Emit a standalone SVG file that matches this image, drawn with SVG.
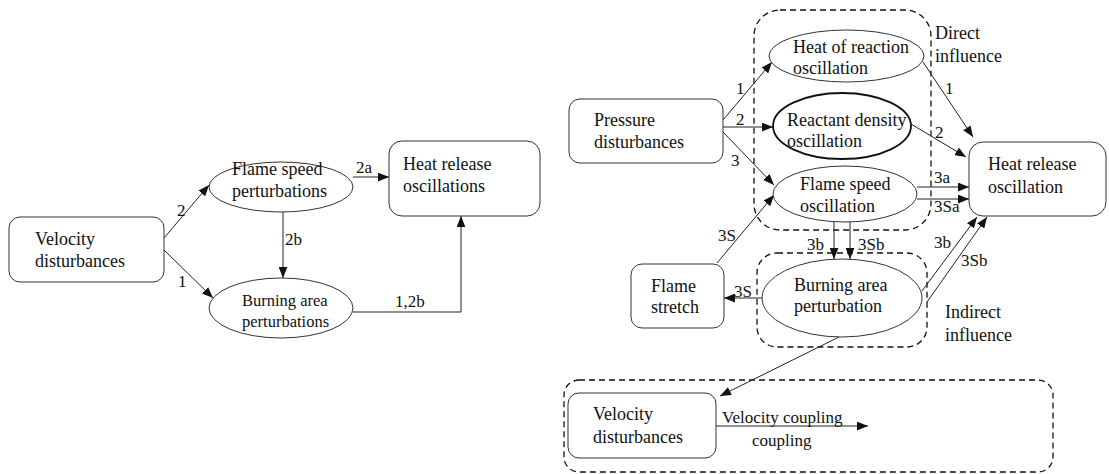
<svg xmlns="http://www.w3.org/2000/svg" width="1109" height="474" viewBox="0 0 1109 474" font-family="'Liberation Serif', 'DejaVu Serif', serif">
<style>
  text { font-family: 'Liberation Serif', 'DejaVu Serif', serif; fill: #111; }
  .t { font-size: 18px; }
  .ts { font-size: 16.5px; }
  .lb { font-size: 17px; }
  .box { fill: #fff; stroke: #333; stroke-width: 1; }
  .ell { fill: #fff; stroke: #333; stroke-width: 1; }
  .thick { stroke-width: 1.8; stroke: #111; }
  .dash { fill: none; stroke: #111; stroke-width: 1.3; stroke-dasharray: 6 4; }
  .c { fill: none; stroke: #222; stroke-width: 1; }
</style>
<defs>
  <marker id="ah" viewBox="0 0 10 8" refX="10" refY="4" markerWidth="11" markerHeight="9" markerUnits="userSpaceOnUse" orient="auto">
    <path d="M0,0 L10,4 L0,8 z" fill="#111"/>
  </marker>
</defs>
<rect width="1109" height="474" fill="#fff"/>

<!-- dashed groupings -->
<g id="groups">
  <rect class="dash" x="754" y="10" width="177" height="220" rx="26"/>
  <rect class="dash" x="757" y="253" width="170" height="94" rx="20"/>
  <rect class="dash" x="564" y="380" width="489" height="92" rx="15"/>
</g>

<!-- connectors -->
<g id="connectors">
  <line class="c" x1="164" y1="238" x2="209" y2="185" marker-end="url(#ah)"/>
  <line class="c" x1="164" y1="250" x2="213" y2="298" marker-end="url(#ah)"/>
  <line class="c" x1="353" y1="177" x2="389" y2="177" marker-end="url(#ah)"/>
  <line class="c" x1="283" y1="212" x2="283" y2="278" marker-end="url(#ah)"/>
  <polyline class="c" points="353,312 461,312 461,216" marker-end="url(#ah)"/>

  <line class="c" x1="723" y1="120" x2="772" y2="62" marker-end="url(#ah)"/>
  <line class="c" x1="723" y1="127" x2="773" y2="127" marker-end="url(#ah)"/>
  <line class="c" x1="723" y1="132" x2="774" y2="185" marker-end="url(#ah)"/>
  <line class="c" x1="717" y1="263" x2="774" y2="195" marker-end="url(#ah)"/>
  <line class="c" x1="923" y1="62" x2="973" y2="137" marker-end="url(#ah)"/>
  <line class="c" x1="911" y1="124" x2="966" y2="157" marker-end="url(#ah)"/>
  <line class="c" x1="917" y1="187" x2="969" y2="187" marker-end="url(#ah)"/>
  <line class="c" x1="917" y1="199" x2="969" y2="199" marker-end="url(#ah)"/>
  <line class="c" x1="834" y1="222" x2="834" y2="259" marker-end="url(#ah)"/>
  <line class="c" x1="850" y1="222" x2="850" y2="259" marker-end="url(#ah)"/>
  <line class="c" x1="762" y1="298" x2="724" y2="298" marker-end="url(#ah)"/>
  <line class="c" x1="922" y1="291" x2="977" y2="217" marker-end="url(#ah)"/>
  <line class="c" x1="927" y1="302" x2="987" y2="217" marker-end="url(#ah)"/>
  <line class="c" x1="839" y1="337" x2="720" y2="396" marker-end="url(#ah)"/>
  <line class="c" x1="716" y1="426" x2="868" y2="426" marker-end="url(#ah)"/>

  <text class="lb" x="177" y="216">2</text>
  <text class="lb" x="178" y="287">1</text>
  <text class="lb" x="356" y="173">2a</text>
  <text class="lb" x="285" y="245">2b</text>
  <text class="lb" x="395" y="307">1,2b</text>

  <text class="lb" x="736" y="94">1</text>
  <text class="lb" x="736" y="125">2</text>
  <text class="lb" x="731" y="166">3</text>
  <text class="lb" x="718" y="241">3S</text>
  <text class="lb" x="945" y="94">1</text>
  <text class="lb" x="935" y="138">2</text>
  <text class="lb" x="934" y="183">3a</text>
  <text class="lb" x="934" y="212">3Sa</text>
  <text class="lb" x="807" y="250">3b</text>
  <text class="lb" x="858" y="250">3Sb</text>
  <text class="lb" x="734" y="297">3S</text>
  <text class="lb" x="934" y="248">3b</text>
  <text class="lb" x="961" y="266">3Sb</text>
  <text class="lb" x="722" y="423">Velocity coupling</text>
  <text class="lb" x="752" y="446">coupling</text>

  <text class="t" x="935" y="39">Direct</text>
  <text class="t" x="935" y="62">influence</text>
  <text class="t" x="945" y="318">Indirect</text>
  <text class="t" x="945" y="341">influence</text>
</g>

<!-- left diagram nodes -->
<g id="velocity-left">
  <rect class="box" x="9" y="217" width="155" height="65" rx="11"/>
  <text class="t" x="35" y="245">Velocity</text>
  <text class="t" x="35" y="267">disturbances</text>
</g>
<g id="flame-speed-left">
  <ellipse class="ell" cx="281" cy="187" rx="72" ry="25"/>
  <text class="t" x="232" y="175">Flame speed</text>
  <text class="t" x="232" y="197">perturbations</text>
</g>
<g id="burning-left">
  <ellipse class="ell" cx="281" cy="308" rx="72" ry="30"/>
  <text class="ts" x="242" y="306">Burning area</text>
  <text class="ts" x="242" y="327">perturbations</text>
</g>
<g id="heat-left">
  <rect class="box" x="389" y="141" width="151" height="75" rx="13"/>
  <text class="t" x="403" y="170">Heat release</text>
  <text class="t" x="403" y="192">oscillations</text>
</g>

<!-- right diagram nodes -->
<g id="pressure">
  <rect class="box" x="569" y="99" width="154" height="64" rx="11"/>
  <text class="t" x="594" y="126">Pressure</text>
  <text class="t" x="594" y="148">disturbances</text>
</g>
<g id="heat-of-reaction">
  <ellipse class="ell" cx="846.5" cy="56" rx="77.5" ry="26"/>
  <text class="t" x="793" y="53">Heat of reaction</text>
  <text class="t" x="793" y="74">oscillation</text>
</g>
<g id="reactant-density">
  <ellipse class="ell thick" cx="842" cy="126" rx="69" ry="33"/>
  <text class="t" x="787" y="126">Reactant density</text>
  <text class="t" x="787" y="147">oscillation</text>
</g>
<g id="flame-speed-right">
  <ellipse class="ell" cx="845" cy="194" rx="72" ry="28"/>
  <text class="t" x="800" y="190">Flame speed</text>
  <text class="t" x="800" y="212">oscillation</text>
</g>
<g id="flame-stretch">
  <rect class="box" x="631" y="264" width="93" height="64" rx="11"/>
  <text class="t" x="651" y="292">Flame</text>
  <text class="t" x="651" y="313">stretch</text>
</g>
<g id="burning-right">
  <ellipse class="ell" cx="842" cy="298" rx="80" ry="39"/>
  <text class="t" x="794" y="291">Burning area</text>
  <text class="t" x="794" y="312">perturbation</text>
</g>
<g id="heat-right">
  <rect class="box" x="969" y="142" width="137" height="74" rx="14"/>
  <text class="t" x="988" y="170">Heat release</text>
  <text class="t" x="988" y="193">oscillation</text>
</g>
<g id="velocity-right">
  <rect class="box" x="568" y="393" width="148" height="65" rx="11"/>
  <text class="t" x="593" y="420">Velocity</text>
  <text class="t" x="593" y="443">disturbances</text>
</g>
</svg>
